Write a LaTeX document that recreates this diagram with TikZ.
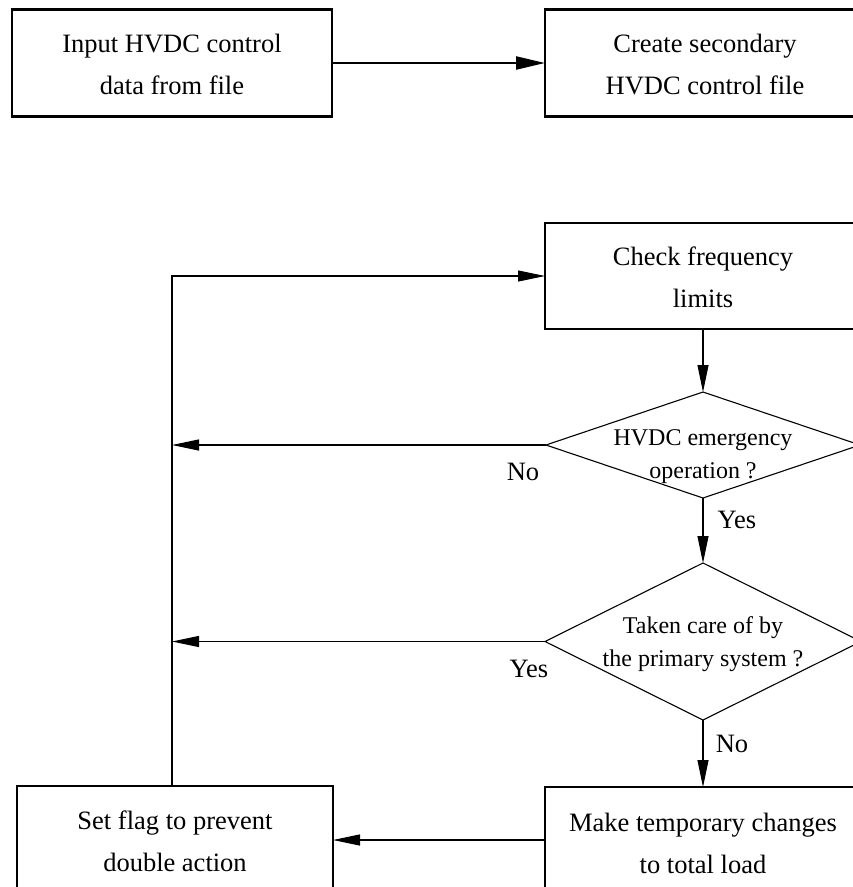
\documentclass[tikz,border=0pt]{standalone}
\usepackage{fontspec}
\setmainfont{Liberation Serif}
\usetikzlibrary{arrows.meta,shapes.geometric}
% invisible prop giving the first text line of a box a fixed height
\newcommand{\firstprop}{\rule{0pt}{22pt}}
\begin{document}
\begin{tikzpicture}[x=1pt,y=-1pt,
  every node/.style={inner sep=0pt, outer sep=0pt},
  txt/.style={font=\fontsize{26.5}{42}\selectfont, align=center},
  dtxt/.style={font=\fontsize{24}{33}\selectfont, align=center},
  topbox/.style={draw, line width=2.2pt, minimum width=320pt, minimum height=107pt, txt},
  procbox/.style={draw, line width=1.1pt, minimum width=316pt, minimum height=106pt, txt},
  decision/.style={draw, shape=diamond, line width=1.1pt},
  flow/.style={line width=1.1pt, -{Triangle[length=27pt,width=11pt]}},
  thickflow/.style={line width=2.2pt, -{Triangle[length=29pt,width=13pt]}},
  lbl/.style={txt}]
\useasboundingbox (0,0) rectangle (853,887);
\clip (0,0) rectangle (853,887);

% file handling
\node[topbox] (input) at (172,63) {\firstprop Input HVDC control\\data from file};
\node[topbox] (create) at (705,63) {\firstprop Create secondary\\HVDC control file};
\draw[thickflow] (input.east) -- (create.west);

% control loop
\node[procbox] (check) at (703,276) {\firstprop Check frequency\\limits};
\node[decision, minimum width=314pt, minimum height=106pt] (emerg) at (703,445) {};
\node[dtxt] (emergtext) at ([yshift=-12pt]emerg.center) {HVDC emergency\\operation ?};
\node[decision, minimum width=316pt, minimum height=157pt] (primary) at (703,641.5) {};
\node[dtxt] (primarytext) at ([yshift=-3pt]primary.center) {Taken care of by\\the primary system ?};
\node[procbox, minimum height=110pt] (change) at (703,842) {\firstprop Make temporary changes\\to total load};
\node[procbox, minimum height=108pt] (flag) at (175,840) {\firstprop Set flag to prevent\\double action};

\coordinate (loop) at (172,276);

\draw[flow] (check.south) -- (emerg.north);
\draw[flow] (emerg.south) -- (primary.north);
\draw[flow] (primary.south) -- (change.north);
\draw[flow] (emerg.west) -- (emerg.west -| loop);
\draw[flow] (primary.west) -- (primary.west -| loop);
\draw[flow] (change.west |- flag.east) -- (flag.east);
\draw[flow] (flag.north -| loop) -- (loop) -- (check.west);

% branch labels
\node[lbl] (noemerg) at (523,472) {No};
\node[lbl] (yesemerg) at (737,520) {Yes};
\node[lbl] (yesprimary) at (529,669) {Yes};
\node[lbl] (noprimary) at (732,744) {No};
\end{tikzpicture}
\end{document}
